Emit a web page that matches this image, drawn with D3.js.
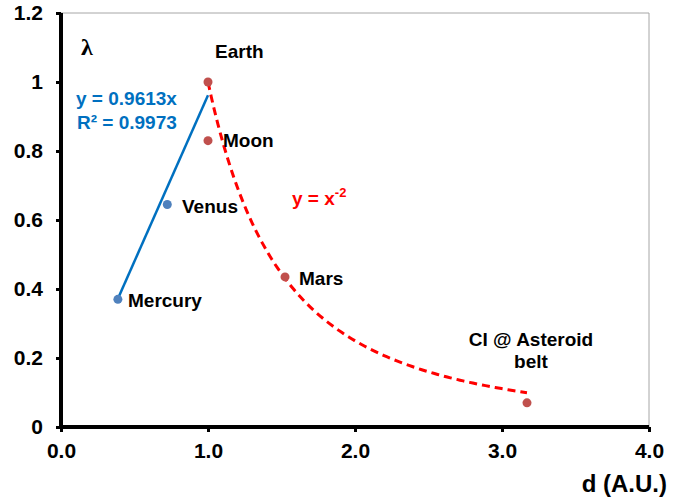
<!DOCTYPE html>
<html>
<head>
<meta charset="utf-8">
<script src="https://cdn.jsdelivr.net/npm/d3@7"></script>
<style>
  body { margin: 0; background: #fff; }
  svg text { font-family: "Liberation Sans", Arial, sans-serif; font-weight: bold; }
</style>
</head>
<body>
<svg id="chart" width="694" height="500"></svg>
<script>
// Inner planets (blue, fitted with a linear trend through the origin)
const innerNames = ["Mercury", "Venus"];
const innerD = [0.387, 0.723];
const innerL = [0.37, 0.645];

// Earth, Moon, Mars and CI chondrites (red, inverse-square trend)
const outerNames = ["Earth", "Moon", "Mars", "CI @ Asteroid belt"];
const outerD = [1.0, 1.0, 1.524, 3.17];
const outerL = [1.0, 0.83, 0.435, 0.07];

// Trend lines
const linSlope = 0.9613;      // y = 0.9613x
const linRange = [0.387, 1.0];
const powExp = -2;            // y = x^-2
const powRange = [1.0, 3.17];

const xTicks = [0, 1, 2, 3, 4];
const yTicks = [0, 0.2, 0.4, 0.6, 0.8, 1, 1.2];

const svg = d3.select("#chart");
const x = d3.scaleLinear().domain([0, 4]).range([61, 649]);
const y = d3.scaleLinear().domain([0, 1.2]).range([427, 13]);

// plot-area border (top and right)
svg.append("path")
  .attr("d", `M${x(0)},${y(1.2)}H${x(4)}V${y(0)}`)
  .attr("fill", "none").attr("stroke", "#a6a6a6").attr("stroke-width", 1);

// axes
const xAxis = d3.axisBottom(x).tickValues(xTicks).tickFormat(d3.format(".1f")).tickSize(5).tickPadding(10);
const yAxis = d3.axisLeft(y).tickValues(yTicks).tickFormat(d => d3.format("")(+d.toFixed(1))).tickSize(5).tickPadding(13);

const gx = svg.append("g").attr("transform", `translate(0,${y(0)})`).call(xAxis);
const gy = svg.append("g").attr("transform", `translate(${x(0)},0)`).call(yAxis);
[gx, gy].forEach(g => {
  g.select(".domain").attr("stroke", "#000").attr("stroke-width", 4);
  g.selectAll(".tick line").attr("stroke", "#000").attr("stroke-width", 3);
  g.selectAll(".tick text").attr("fill", "#000").style("font-size", "21px")
    .style("font-family", "'Liberation Sans', Arial, sans-serif").style("font-weight", "bold");
});
gx.select(".domain").attr("d", `M${x(0)},0H${x(4)}`);
gy.select(".domain").attr("d", `M0,${y(0)}V${y(1.2)}`);
gx.selectAll(".tick text").attr("dy", "0.75em");
gy.selectAll(".tick text").attr("dy", "0.33em");

// linear trend line
svg.append("line")
  .attr("x1", x(linRange[0])).attr("y1", y(linSlope * linRange[0]))
  .attr("x2", x(linRange[1])).attr("y2", y(linSlope * linRange[1]))
  .attr("stroke", "#0070c0").attr("stroke-width", 2.5);

// inverse-square trend line
const powPts = d3.range(0, 101).map(i => {
  const d = powRange[0] + (powRange[1] - powRange[0]) * i / 100;
  return [d, Math.pow(d, powExp)];
});
svg.append("path")
  .attr("d", d3.line().x(d => x(d[0])).y(d => y(d[1]))(powPts))
  .attr("fill", "none").attr("stroke", "#ff0000").attr("stroke-width", 3)
  .attr("stroke-dasharray", "8,5");

// points
svg.selectAll("circle.inner").data(innerD).join("circle")
  .attr("cx", (d) => x(d)).attr("cy", (d, i) => y(innerL[i])).attr("r", 4.5)
  .attr("fill", "#4f81bd");
svg.selectAll("circle.outer").data(outerD).join("circle")
  .attr("cx", (d) => x(d)).attr("cy", (d, i) => y(outerL[i])).attr("r", 4.5)
  .attr("fill", "#c0504d");

// point labels
const lab = (t, px, py, anchor) => svg.append("text").attr("x", px).attr("y", py)
  .attr("text-anchor", anchor || "start").style("font-size", "19px").attr("fill", "#000").text(t);
lab(outerNames[0], 215, 58);
lab(outerNames[1], 223, 147);
lab(innerNames[1], 182, 213);
lab(innerNames[0], 128, 307);
lab(outerNames[2], 299, 285);
lab("CI @ Asteroid", 531, 346, "middle");
lab("belt", 531, 368, "middle");

// trend equations
svg.append("text").attr("x", 76).attr("y", 105).attr("fill", "#0070c0").style("font-size", "19px")
  .text("y = " + linSlope + "x");
svg.append("text").attr("x", 77).attr("y", 129).attr("fill", "#0070c0").style("font-size", "19px")
  .text("R\u00b2 = 0.9973");
const pe = svg.append("text").attr("x", 292).attr("y", 205).attr("fill", "#ff0000").style("font-size", "19px");
pe.append("tspan").text("y = x");
pe.append("tspan").attr("dy", -8).style("font-size", "13px").text(powExp);

// axis titles
svg.append("text").attr("x", 81).attr("y", 55).style("font-size", "24px").style("font-weight", "bold")
  .style("font-family", "'Liberation Serif', 'Times New Roman', serif").attr("fill", "#000").text("\u03bb");
svg.append("text").attr("x", 667).attr("y", 492).attr("text-anchor", "end").style("font-size", "24px")
  .attr("fill", "#000").text("d (A.U.)");
</script>
</body>
</html>
